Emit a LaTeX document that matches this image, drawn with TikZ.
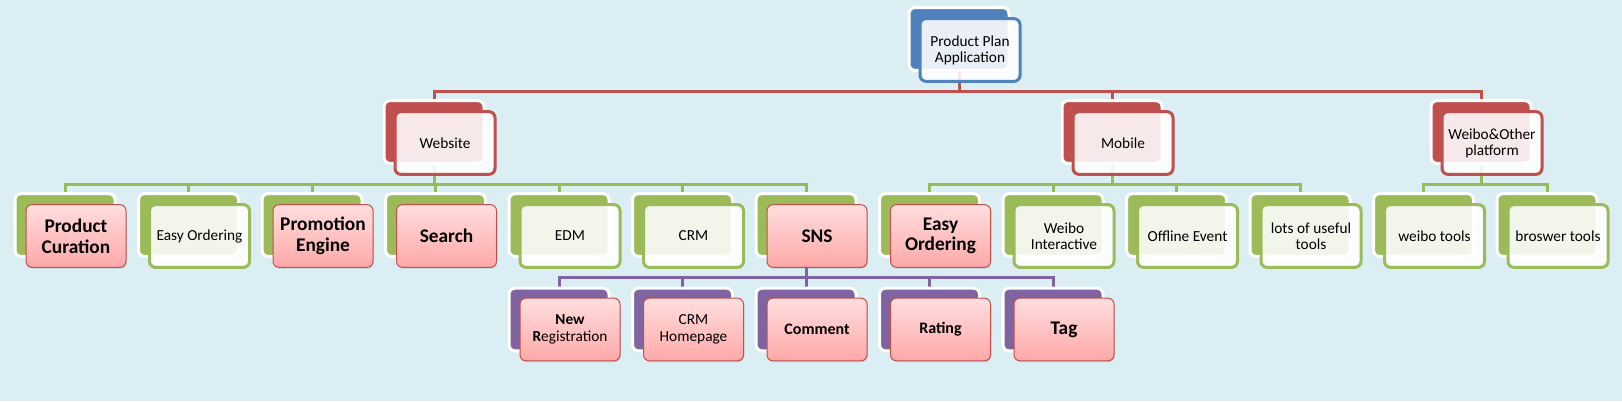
\documentclass[tikz,border=0pt]{standalone}
\usepackage{fontspec}
\setmainfont{Carlito}
\usetikzlibrary{shadows}
\definecolor{bgblue}{HTML}{DAEEF3}
\definecolor{planred}{HTML}{C0504D}
\definecolor{plangreen}{HTML}{9BBB59}
\definecolor{planblue}{HTML}{4F81BD}
\definecolor{planpurple}{HTML}{8064A2}
\definecolor{pinktop}{HTML}{FFDEDE}
\definecolor{pinkbot}{HTML}{FFA8A8}
\pgfdeclarelayer{linklayer}
\pgfsetlayers{linklayer,main}
\begin{document}
\begin{tikzpicture}[x=0.75pt,y=-0.75pt,
  back/.style={rectangle,rounded corners=4.5pt,minimum width=75pt,minimum height=47pt,
    inner sep=0pt,fill=#1,draw=white,line width=2.25pt},
  front/.style={rectangle,rounded corners=4.5pt,minimum width=75pt,minimum height=47pt,
    inner sep=0pt,fill=white,fill opacity=0.88,text opacity=1,draw=#1,line width=2.25pt,
    align=center,font=\fontsize{11.5}{12}\selectfont},
  pinkbox/.style={rectangle,rounded corners=4.5pt,minimum width=75pt,minimum height=47pt,
    inner sep=0pt,top color=pinktop,bottom color=pinkbot,draw=planred,line width=0.75pt,
    drop shadow={opacity=0.25,shadow xshift=0.6pt,shadow yshift=-1pt},
    align=center,font=\fontsize{11.5}{12.5}\selectfont},
  hot/.style={pinkbox,font=\fontsize{14.5}{15.5}\bfseries},
  hotmid/.style={pinkbox,font=\fontsize{12}{13}\bfseries},
  link/.style={draw=#1,line width=2.25pt}]
  \useasboundingbox (0,0) rectangle (1622,401);
  \begin{pgfonlayer}{linklayer}
    \fill[bgblue] (0,0) rectangle (1622,401);
  \end{pgfonlayer}
  % Bars
  \coordinate (barA) at (0,91);
  \coordinate (barB) at (0,184);
  \coordinate (barC) at (0,277);
  % Root
  \node[back=planblue] (root) at (959,39) {};
  \node[front=planblue] (root-f) at ([shift={(11,11)}]root) {Product Plan\\Application};
  % Channels
  \node[back=planred] (web) at (434,132) {};
  \node[front=planred] (web-f) at ([shift={(11,11)}]web) {Website};
  \node[back=planred] (mob) at (1112,132) {};
  \node[front=planred] (mob-f) at ([shift={(11,11)}]mob) {Mobile};
  \node[back=planred] (wei) at (1481,132) {};
  \node[front=planred] (wei-f) at ([shift={(11,11)}]wei) {Weibo\&Other\\platform};
  % Features
  \foreach \n/\i/\kind/\txt in {
    pc/0/hot/{Product\\Curation},
    eo/1/front/{Easy Ordering},
    pe/2/hot/{Promotion\\Engine},
    se/3/hot/{Search},
    edm/4/front/{EDM},
    crm/5/front/{CRM},
    sns/6/hot/{SNS},
    eo2/7/hot/{Easy\\Ordering},
    wi/8/front/{Weibo\\Interactive},
    oe/9/front/{Offline Event},
    lt/10/front/{lots of useful\\tools},
    wt/11/front/{weibo tools},
    bt/12/front/{broswer tools}}
  {
    \node[back=plangreen] (\n) at (65+123.5*\i,225) {};
    \node[\kind=plangreen] (\n-f) at ([shift={(11,11)}]\n) {\txt};
  }
  % SNS parts
  \foreach \n/\i/\kind/\txt in {
    nr/4/pinkbox/{\textbf{New}\\\textbf{R}egistration},
    ch/5/pinkbox/{CRM\\Homepage},
    cm/6/hotmid/{Comment},
    ra/7/hotmid/{Rating},
    tg/8/hot/{Tag}}
  {
    \node[back=planpurple] (\n) at (65+123.5*\i,319.5) {};
    \node[\kind] (\n-f) at ([shift={(11,10)}]\n) {\txt};
  }
  % Links
  \begin{pgfonlayer}{linklayer}
    \foreach \n in {web,mob,wei}
      \draw[link=planred] (root.south) -- (root.south |- barA) -| (\n.north);
    \foreach \n in {pc,eo,pe,se,edm,crm,sns}
      \draw[link=plangreen] (web.south) -- (web.south |- barB) -| (\n.north);
    \foreach \n in {eo2,wi,oe,lt}
      \draw[link=plangreen] (mob.south) -- (mob.south |- barB) -| (\n.north);
    \foreach \n in {wt,bt}
      \draw[link=plangreen] (wei.south) -- (wei.south |- barB) -| (\n.north);
    \foreach \n in {nr,ch,cm,ra,tg}
      \draw[link=planpurple] (sns.south) -- (sns.south |- barC) -| (\n.north);
  \end{pgfonlayer}
\end{tikzpicture}
\end{document}
